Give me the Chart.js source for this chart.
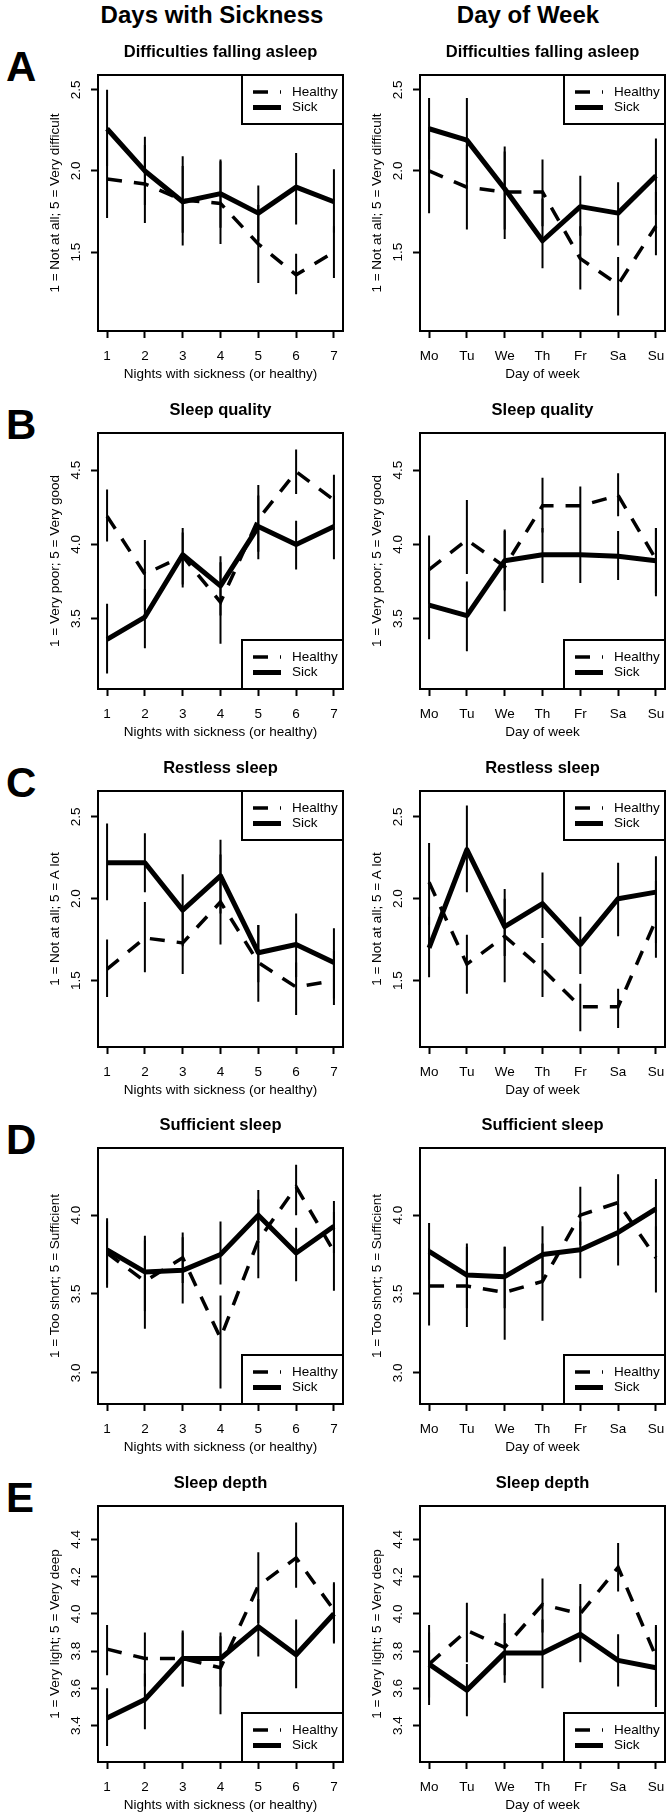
<!DOCTYPE html>
<html>
<head>
<meta charset="utf-8">
<script src="https://cdn.jsdelivr.net/npm/chart.js@4.4.0/dist/chart.umd.min.js"></script>
<style>
  body { margin: 0; background: #fff; }
  #page { position: relative; width: 669px; height: 1818px; overflow: hidden; background: #fff;
          font-family: "Liberation Sans", Arial, sans-serif; color: #000; }
  .hdr { position: absolute; top: 3px; font-size: 24px; line-height: 24px; font-weight: bold; text-align: center; width: 300px; }
  .letter { position: absolute; left: 6px; font-size: 42px; line-height: 42px; font-weight: bold; }
  canvas { position: absolute; }
</style>
</head>
<body>
<div id="page">
  <div class="hdr" style="left:62px">Days with Sickness</div>
  <div class="hdr" style="left:378px">Day of Week</div>
</div>
<script>
const FONT = '"Liberation Sans", Arial, sans-serif';

const nightLabels = ['1', '2', '3', '4', '5', '6', '7'];
const dayLabels = ['Mo', 'Tu', 'We', 'Th', 'Fr', 'Sa', 'Su'];

// A - difficulties falling asleep
const asleepTicks = [1.5, 2.0, 2.5];
const asleepNightSick = [2.26, 2.00, 1.81, 1.86, 1.74, 1.90, 1.81];
const asleepNightSickLo = [2.03, 1.79, 1.54, 1.65, 1.57, 1.67, 1.62];
const asleepNightSickHi = [2.50, 2.21, 2.09, 2.07, 1.91, 2.11, 2.01];
const asleepNightHealthy = [1.95, 1.92, 1.82, 1.80, 1.55, 1.36, 1.50];
const asleepNightHealthyLo = [1.71, 1.68, 1.62, 1.55, 1.31, 1.24, 1.34];
const asleepNightHealthyHi = [2.19, 2.16, 2.03, 2.06, 1.79, 1.49, 1.66];
const asleepDaySick = [2.26, 2.19, 1.89, 1.57, 1.78, 1.74, 1.97];
const asleepDaySickLo = [2.07, 1.93, 1.64, 1.40, 1.60, 1.54, 1.73];
const asleepDaySickHi = [2.45, 2.45, 2.15, 1.83, 1.97, 1.93, 2.20];
const asleepDayHealthy = [2.00, 1.90, 1.87, 1.87, 1.46, 1.30, 1.66];
const asleepDayHealthyLo = [1.74, 1.64, 1.58, 1.66, 1.27, 1.11, 1.48];
const asleepDayHealthyHi = [2.27, 2.16, 2.12, 2.07, 1.66, 1.47, 1.87];

// B - sleep quality
const qualityTicks = [3.5, 4.0, 4.5];
const qualityNightSick = [3.36, 3.51, 3.93, 3.72, 4.12, 4.00, 4.12];
const qualityNightSickLo = [3.13, 3.30, 3.73, 3.52, 3.90, 3.83, 3.90];
const qualityNightSickHi = [3.60, 3.70, 4.11, 3.92, 4.33, 4.16, 4.33];
const qualityNightHealthy = [4.19, 3.80, 3.92, 3.61, 4.17, 4.49, 4.30];
const qualityNightHealthyLo = [4.02, 3.56, 3.71, 3.33, 3.95, 4.34, 4.13];
const qualityNightHealthyHi = [4.37, 4.03, 4.08, 3.88, 4.40, 4.64, 4.47];
const qualityDaySick = [3.59, 3.52, 3.89, 3.93, 3.93, 3.92, 3.89];
const qualityDaySickLo = [3.36, 3.28, 3.69, 3.74, 3.74, 3.76, 3.65];
const qualityDaySickHi = [3.83, 3.75, 4.10, 4.11, 4.11, 4.09, 4.11];
const qualityDayHealthy = [3.83, 4.03, 3.85, 4.26, 4.26, 4.33, 3.90];
const qualityDayHealthyLo = [3.60, 3.80, 3.55, 4.08, 4.11, 4.19, 3.67];
const qualityDayHealthyHi = [4.06, 4.30, 4.09, 4.45, 4.39, 4.48, 4.11];

// C - restless sleep
const restlessTicks = [1.5, 2.0, 2.5];
const restlessNightSick = [2.22, 2.22, 1.93, 2.14, 1.67, 1.72, 1.61];
const restlessNightSickLo = [1.99, 2.04, 1.71, 1.91, 1.49, 1.52, 1.39];
const restlessNightSickHi = [2.46, 2.40, 2.15, 2.36, 1.84, 1.91, 1.82];
const restlessNightHealthy = [1.57, 1.76, 1.73, 1.98, 1.61, 1.46, 1.50];
const restlessNightHealthyLo = [1.40, 1.55, 1.54, 1.72, 1.37, 1.29, 1.35];
const restlessNightHealthyHi = [1.75, 1.98, 1.92, 2.27, 1.84, 1.61, 1.68];
const restlessDaySick = [1.70, 2.30, 1.83, 1.97, 1.72, 2.00, 2.04];
const restlessDaySickLo = [1.52, 2.04, 1.65, 1.76, 1.54, 1.77, 1.73];
const restlessDaySickHi = [1.89, 2.57, 2.06, 2.16, 1.89, 2.22, 2.26];
const restlessDayHealthy = [2.10, 1.60, 1.77, 1.57, 1.34, 1.34, 1.87];
const restlessDayHealthyLo = [1.84, 1.42, 1.49, 1.40, 1.19, 1.21, 1.64];
const restlessDayHealthyHi = [2.34, 1.78, 2.00, 1.73, 1.48, 1.45, 2.11];

// D - sufficient sleep
const sufficientTicks = [3.0, 3.5, 4.0];
const sufficientNightSick = [3.78, 3.64, 3.65, 3.75, 4.00, 3.76, 3.93];
const sufficientNightSickLo = [3.56, 3.39, 3.44, 3.56, 3.84, 3.58, 3.76];
const sufficientNightSickHi = [3.98, 3.87, 3.86, 3.96, 4.16, 3.92, 4.09];
const sufficientNightHealthy = [3.76, 3.58, 3.73, 3.22, 3.84, 4.18, 3.77];
const sufficientNightHealthyLo = [3.54, 3.28, 3.57, 2.90, 3.60, 4.00, 3.52];
const sufficientNightHealthyHi = [3.96, 3.84, 3.89, 3.49, 4.10, 4.32, 4.02];
const sufficientDaySick = [3.77, 3.62, 3.61, 3.75, 3.78, 3.89, 4.04];
const sufficientDaySickLo = [3.59, 3.41, 3.41, 3.58, 3.60, 3.68, 3.84];
const sufficientDaySickHi = [3.95, 3.82, 3.80, 3.93, 3.96, 4.07, 4.23];
const sufficientDayHealthy = [3.55, 3.55, 3.51, 3.58, 4.00, 4.08, 3.73];
const sufficientDayHealthyLo = [3.30, 3.29, 3.21, 3.33, 3.81, 3.90, 3.51];
const sufficientDayHealthyHi = [3.79, 3.80, 3.80, 3.82, 4.18, 4.26, 3.93];

// E - sleep depth
const depthTicks = [3.4, 3.6, 3.8, 4.0, 4.2, 4.4];
const depthNightSick = [3.44, 3.54, 3.76, 3.76, 3.93, 3.78, 4.00];
const depthNightSickLo = [3.29, 3.38, 3.61, 3.61, 3.77, 3.60, 3.84];
const depthNightSickHi = [3.60, 3.68, 3.90, 3.90, 4.08, 3.97, 4.16];
const depthNightHealthy = [3.81, 3.76, 3.76, 3.71, 4.15, 4.30, 4.02];
const depthNightHealthyLo = [3.67, 3.61, 3.61, 3.46, 3.95, 4.14, 3.85];
const depthNightHealthyHi = [3.94, 3.90, 3.91, 3.88, 4.33, 4.49, 4.17];
const depthDaySick = [3.73, 3.59, 3.79, 3.79, 3.89, 3.75, 3.71];
const depthDaySickLo = [3.55, 3.45, 3.63, 3.60, 3.74, 3.61, 3.50];
const depthDaySickHi = [3.90, 3.73, 3.95, 3.97, 4.04, 3.89, 3.93];
const depthDayHealthy = [3.73, 3.91, 3.82, 4.05, 4.00, 4.25, 3.77];
const depthDayHealthyLo = [3.51, 3.74, 3.67, 3.90, 3.86, 4.12, 3.59];
const depthDayHealthyHi = [3.94, 4.06, 4.00, 4.19, 4.16, 4.38, 3.94];

const rows = [
  { letter: 'A', title: 'Difficulties falling asleep', yTitle: '1 = Not at all; 5 = Very difficult',
    range: [1.014, 2.591], ticks: asleepTicks, legendAt: 'top',
    night: [asleepNightSick, asleepNightSickLo, asleepNightSickHi, asleepNightHealthy, asleepNightHealthyLo, asleepNightHealthyHi],
    day: [asleepDaySick, asleepDaySickLo, asleepDaySickHi, asleepDayHealthy, asleepDayHealthyLo, asleepDayHealthyHi] },
  { letter: 'B', title: 'Sleep quality', yTitle: '1 = Very poor; 5 = Very good',
    range: [3.025, 4.751], ticks: qualityTicks, legendAt: 'bottom',
    night: [qualityNightSick, qualityNightSickLo, qualityNightSickHi, qualityNightHealthy, qualityNightHealthyLo, qualityNightHealthyHi],
    day: [qualityDaySick, qualityDaySickLo, qualityDaySickHi, qualityDayHealthy, qualityDayHealthyLo, qualityDayHealthyHi] },
  { letter: 'C', title: 'Restless sleep', yTitle: '1 = Not at all; 5 = A lot',
    range: [1.094, 2.658], ticks: restlessTicks, legendAt: 'top',
    night: [restlessNightSick, restlessNightSickLo, restlessNightSickHi, restlessNightHealthy, restlessNightHealthyLo, restlessNightHealthyHi],
    day: [restlessDaySick, restlessDaySickLo, restlessDaySickHi, restlessDayHealthy, restlessDayHealthyLo, restlessDayHealthyHi] },
  { letter: 'D', title: 'Sufficient sleep', yTitle: '1 = Too short; 5 = Sufficient',
    range: [2.802, 4.426], ticks: sufficientTicks, legendAt: 'bottom',
    night: [sufficientNightSick, sufficientNightSickLo, sufficientNightSickHi, sufficientNightHealthy, sufficientNightHealthyLo, sufficientNightHealthyHi],
    day: [sufficientDaySick, sufficientDaySickLo, sufficientDaySickHi, sufficientDayHealthy, sufficientDayHealthyLo, sufficientDayHealthyHi] },
  { letter: 'E', title: 'Sleep depth', yTitle: '1 = Very light; 5 = Very deep',
    range: [3.204, 4.579], ticks: depthTicks, legendAt: 'bottom',
    night: [depthNightSick, depthNightSickLo, depthNightSickHi, depthNightHealthy, depthNightHealthyLo, depthNightHealthyHi],
    day: [depthDaySick, depthDaySickLo, depthDaySickHi, depthDayHealthy, depthDayHealthyLo, depthDayHealthyHi] }
];

// left column = nights, right column = weekdays
const columns = [
  { key: 'night', labels: nightLabels, xTitle: 'Nights with sickness (or healthy)', left: 0, width: 345, yWidth: 98, yTitlePad: 47.2, padRight: 2 },
  { key: 'day', labels: dayLabels, xTitle: 'Day of week', left: 345, width: 324, yWidth: 75, yTitlePad: 23.9, padRight: 4 }
];

const series = vals => vals.map((v, i) => ({ x: i + 1, y: v }));
const errorBars = (lo, hi) => {
  const pts = [];
  lo.forEach((l, i) => pts.push({ x: i + 1, y: l }, { x: i + 1, y: hi[i] }, { x: i + 1, y: null }));
  return pts;
};

// plot box plus an R-style legend in one corner
const frame = {
  id: 'frame',
  afterDatasetsDraw(chart, args, opts) {
    const { ctx, chartArea: a } = chart;
    ctx.save();
    ctx.strokeStyle = '#000';
    ctx.lineWidth = 2;
    ctx.strokeRect(a.left, a.top, a.right - a.left, a.bottom - a.top);
    const w = 101, h = 49;
    const x0 = a.right - w;
    const y0 = opts.corner === 'top' ? a.top : a.bottom - h;
    ctx.fillStyle = '#fff';
    ctx.fillRect(x0, y0, w, h);
    ctx.strokeRect(x0, y0, w, h);
    chart.data.datasets.filter(d => d.label).forEach((d, i) => {
      const y = y0 + 17 + i * 15.5;
      ctx.beginPath();
      ctx.lineWidth = d.borderWidth;
      ctx.lineCap = 'butt';
      ctx.setLineDash(d.borderDash || []);
      ctx.moveTo(x0 + 11, y);
      ctx.lineTo(x0 + 39, y);
      ctx.stroke();
      ctx.setLineDash([]);
      ctx.fillStyle = '#000';
      ctx.font = '13.5px ' + FONT;
      ctx.textBaseline = 'middle';
      ctx.fillText(d.label, x0 + 50, y);
    });
    ctx.restore();
  }
};

const tickFont = { family: FONT, size: 13.5 };
const grid = { drawOnChartArea: false, drawTicks: true, tickLength: 7, tickWidth: 2, tickColor: '#000', color: '#000' };

const page = document.getElementById('page');

rows.forEach((row, r) => {
  const top = 33 + Math.round(r * 357.8);
  const letter = document.createElement('div');
  letter.className = 'letter';
  letter.style.top = (top + 42 - 29.5) + 'px';
  letter.textContent = row.letter;
  page.appendChild(letter);

  columns.forEach(col => {
    const [sick, sickLo, sickHi, healthy, healthyLo, healthyHi] = row[col.key];
    const canvas = document.createElement('canvas');
    canvas.width = col.width;
    canvas.height = 350;
    canvas.style.left = col.left + 'px';
    canvas.style.top = top + 'px';
    page.appendChild(canvas);

    new Chart(canvas, {
      type: 'line',
      data: {
        datasets: [
          { label: 'Healthy', data: series(healthy), borderColor: '#000', borderWidth: 3.5,
            borderDash: [15, 12], pointRadius: 0, order: 1 },
          { label: 'Sick', data: series(sick), borderColor: '#000', borderWidth: 5,
            borderJoinStyle: 'round', pointRadius: 0, order: 0 },
          { data: errorBars(healthyLo, healthyHi), borderColor: '#000', borderWidth: 2, pointRadius: 0, order: 2 },
          { data: errorBars(sickLo, sickHi), borderColor: '#000', borderWidth: 2, pointRadius: 0, order: 2 }
        ]
      },
      options: {
        responsive: false,
        animation: false,
        devicePixelRatio: 1,
        events: [],
        layout: { padding: { left: 0, right: col.padRight, top: 0, bottom: 0 } },
        plugins: {
          legend: { display: false },
          tooltip: { enabled: false },
          title: {
            display: true, text: row.title, fullSize: false, color: '#000',
            font: { family: FONT, size: 16.5, weight: 'bold', lineHeight: '20px' },
            padding: { top: 9.6, bottom: 12.4 }
          },
          frame: { corner: row.legendAt }
        },
        scales: {
          x: {
            type: 'linear', min: 0.76, max: 7.24,
            afterBuildTicks: s => { s.ticks = col.labels.map((l, i) => ({ value: i + 1 })); },
            afterFit: s => { s.height = 52; s.paddingLeft = 0; s.paddingRight = 0; },
            ticks: { callback: v => col.labels[v - 1], color: '#000', font: tickFont, padding: 9.9,
                     autoSkip: false, maxRotation: 0 },
            grid: grid,
            border: { display: false },
            title: { display: true, text: col.xTitle, color: '#000', font: tickFont, padding: { top: 0, bottom: 1.1 } }
          },
          y: {
            min: row.range[0], max: row.range[1],
            afterBuildTicks: s => { s.ticks = row.ticks.map(v => ({ value: v })); },
            afterFit: s => { s.width = col.yWidth; s.paddingTop = 0; s.paddingBottom = 0; },
            ticks: { callback: v => v.toFixed(1), color: '#000', font: tickFont, minRotation: 90, maxRotation: 90,
                     crossAlign: 'center', padding: 4.9, autoSkip: false },
            grid: grid,
            border: { display: false },
            title: { display: true, text: row.yTitle, color: '#000', font: tickFont, padding: { top: col.yTitlePad, bottom: 0 } }
          }
        }
      },
      plugins: [frame]
    });
  });
});
</script>
</body>
</html>
